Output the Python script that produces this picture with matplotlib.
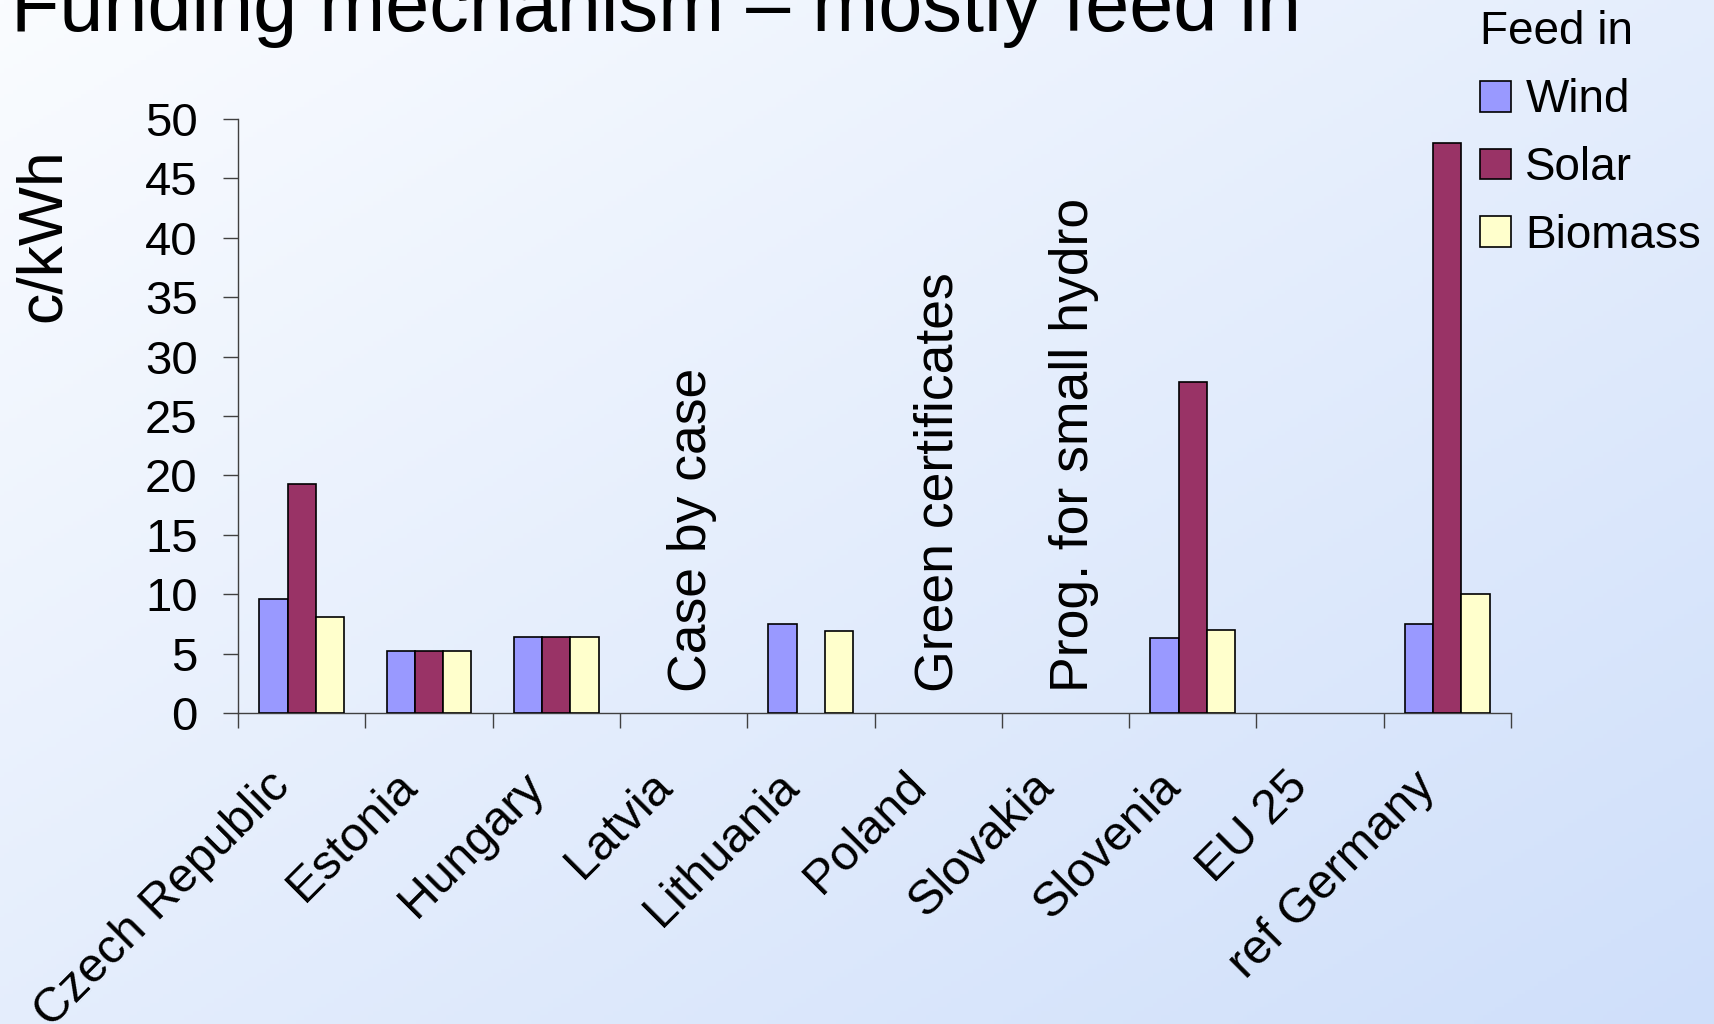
import numpy as np
import matplotlib
matplotlib.use('Agg')
import matplotlib.pyplot as plt
import matplotlib.transforms as mtransforms
from matplotlib.patches import Rectangle

plt.rcParams['font.family'] = ['Liberation Sans', 'DejaVu Sans']

# Feed-in tariffs, c/kWh (blank where the country uses another mechanism)
categories = ['Czech Republic', 'Estonia', 'Hungary', 'Latvia', 'Lithuania',
              'Poland', 'Slovakia', 'Slovenia', 'EU 25', 'ref Germany']
wind = [9.6, 5.2, 6.4, None, 7.5, None, None, 6.3, None, 7.5]
solar = [19.3, 5.2, 6.4, None, None, None, None, 27.9, None, 48.0]
biomass = [8.1, 5.2, 6.4, None, 6.9, None, None, 7.0, None, 10.0]

series_names = ['Wind', 'Solar', 'Biomass']
series_colors = ['#9999ff', '#993366', '#ffffcc']

# countries with no feed-in tariff get a note instead
note_index = [3, 5, 6]
note_text = ['Case by case', 'Green certificates', 'Prog. for small hydro']
note_shift = [0.07, 0.0, 0.07]

yticks = list(range(0, 51, 5))

W, H = 1714, 1024
fig = plt.figure(figsize=(W / 100, H / 100), dpi=100)

# diagonal white -> pale blue background
bg = fig.add_axes([0, 0, 1, 1], zorder=-10)
gx, gy = np.meshgrid(np.linspace(0, 1, 400), np.linspace(0, 1, 240))
t = (gx + gy) / 2
c0 = np.array([250, 252, 255]) / 255
c1 = np.array([207, 223, 250]) / 255
img = c0[None, None, :] * (1 - t[..., None]) + c1[None, None, :] * t[..., None]
bg.imshow(img, aspect='auto', extent=[0, 1, 0, 1], origin='upper')
bg.axis('off')

ax = fig.add_axes([238 / W, 1 - 713 / H, (1511 - 238) / W, (713 - 119) / H])
ax.set_facecolor('none')

x = np.arange(len(categories))
bw = 1 / 4.5
for k, (vals, name, col) in enumerate(zip([wind, solar, biomass], series_names, series_colors)):
    v = np.array([np.nan if a is None else a for a in vals], dtype=float)
    ok = ~np.isnan(v)
    ax.bar(x[ok] + (k - 1) * bw, v[ok], width=bw, color=col, edgecolor='black',
           linewidth=1.2, label=name, zorder=3)

for i, txt, dx in zip(note_index, note_text, note_shift):
    ax.text(i + dx, 1.8, txt, rotation=90, ha='center', va='bottom', fontsize=38.5)

ax.set_xlim(-0.5, len(categories) - 0.5)
ax.set_ylim(0, 50)
ax.set_yticks(yticks)
ax.tick_params(axis='y', labelsize=34, length=11, width=1, color='#404040',
               direction='out', pad=18)

# tick marks between categories, labels at the centres
ax.set_xticks(np.arange(len(categories) + 1) - 0.5)
ax.set_xticklabels([])
ax.set_xticks(x, minor=True)
ax.set_xticklabels(categories, minor=True, rotation=45, ha='right', va='center',
                   rotation_mode='anchor', fontsize=35)
ax.tick_params(axis='x', which='major', length=11, width=1, color='#404040', direction='out')
ax.tick_params(axis='x', which='minor', length=0, pad=48)
shift = mtransforms.ScaledTranslation(-0.19, 0, fig.dpi_scale_trans)
for lab in ax.get_xticklabels(minor=True):
    lab.set_transform(lab.get_transform() + shift)

for side in ['top', 'right']:
    ax.spines[side].set_visible(False)
for side in ['left', 'bottom']:
    ax.spines[side].set_color('#404040')
    ax.spines[side].set_linewidth(1)

fig.text(43 / W, 1 - 235 / H, 'c/kWh', rotation=90, ha='center', va='center', fontsize=45)

fig.text(11 / W, 1 - 31 / H, 'Funding mechanism \u2013 mostly feed in',
         ha='left', va='baseline', fontsize=57)

handles = [Rectangle((0, 0), 1, 1, facecolor=c, edgecolor='black', linewidth=1.2)
           for c in series_colors]
leg = fig.legend(handles, series_names, loc='upper left',
                 bbox_to_anchor=(1452 / W, 1 + 18 / H), frameon=False,
                 title='Feed in', title_fontsize=33, fontsize=33,
                 handlelength=0.66, handleheight=0.66, handletextpad=0.32,
                 labelspacing=0.52, borderpad=0.62, alignment='left', borderaxespad=0)

fig.savefig('out.png', dpi=100)
